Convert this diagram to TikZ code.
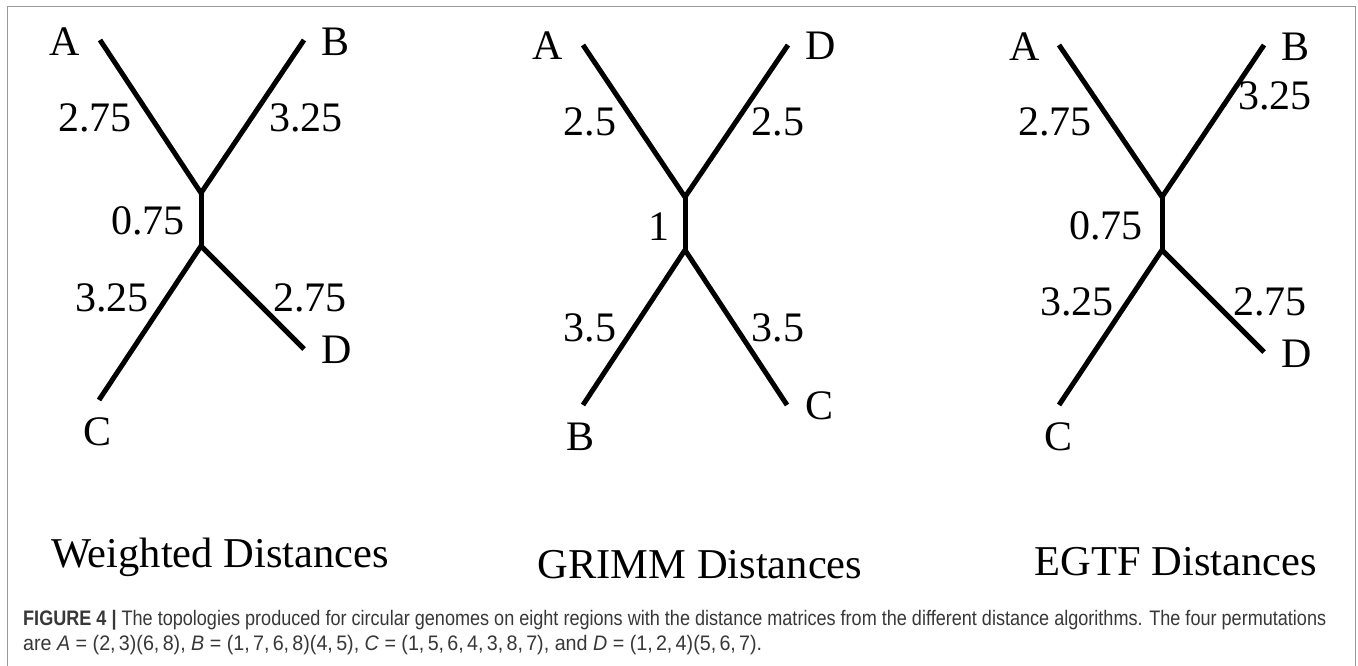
\documentclass[tikz,border=0pt]{standalone}
\usepackage{fontspec}
\setmainfont{Liberation Serif}
\newfontfamily\capfont{Liberation Sans}
\usepackage{graphicx}
\begin{document}
\begin{tikzpicture}[x=1pt,y=-1pt,
  branch/.style={line width=5pt, line join=miter},
  lbl/.style={font=\fontsize{42}{48}\selectfont, inner sep=0pt},
  ttl/.style={font=\fontsize{42.5}{50}\selectfont, inner sep=0pt, anchor=base},
  capline/.style={anchor=base west, inner sep=0pt, text=black!78,
                  font=\capfont\fontsize{21}{25}\selectfont},
  frame/.style={draw=black!40, line width=1.5pt}]
\useasboundingbox (0,0) rectangle (1358,666);
\fill[white] (0,0) rectangle (1358,666);
% frame
\coordinate (f1) at (7.5,666);
\coordinate (f2) at (7.5,6.5);
\coordinate (f3) at (1355.5,6.5);
\coordinate (f4) at (1355.5,666);
\draw[frame] (f1) -- (f2) -- (f3) -- (f4);

% ---------- Tree 1: Weighted ----------
\coordinate (a1) at (100,40);
\coordinate (b1) at (304,40);
\coordinate (u1) at (201,193);
\coordinate (v1) at (201,246);
\coordinate (c1) at (99,400);
\coordinate (d1) at (304,349);
\draw[branch] (a1) -- (u1) -- (b1);
\draw[branch] (u1) -- (v1);
\draw[branch] (c1) -- (v1) -- (d1);
\node[lbl] (la1) at (65,42) {A};
\node[lbl] (lb1) at (336,42) {B};
\node[lbl] (lc1) at (98,432) {C};
\node[lbl] (ld1) at (337,350) {D};
\node[lbl] (wa1) at (95,118) {2.75};
\node[lbl] (wb1) at (306,118) {3.25};
\node[lbl] (wm1) at (148,221) {0.75};
\node[lbl] (wc1) at (112,298) {3.25};
\node[lbl] (wd1) at (310,298) {2.75};

% ---------- Tree 2: GRIMM ----------
\coordinate (a2) at (583,45);
\coordinate (d2) at (788,45);
\coordinate (u2) at (685,197);
\coordinate (v2) at (685,250);
\coordinate (b2) at (583,405);
\coordinate (c2) at (787,405);
\draw[branch] (a2) -- (u2) -- (d2);
\draw[branch] (u2) -- (v2);
\draw[branch] (b2) -- (v2) -- (c2);
\node[lbl] (la2) at (548,46) {A};
\node[lbl] (ld2) at (821,46) {D};
\node[lbl] (lb2) at (581,437) {B};
\node[lbl] (lc2) at (819,406) {C};
\node[lbl] (wa2) at (590,122) {2.5};
\node[lbl] (wd2) at (778,122) {2.5};
\node[lbl] (wm2) at (659,227) {1};
\node[lbl] (wb2) at (590,328) {3.5};
\node[lbl] (wc2) at (778,328) {3.5};

% ---------- Tree 3: EGTF ----------
\coordinate (a3) at (1059,45);
\coordinate (b3) at (1264,45);
\coordinate (u3) at (1162,197);
\coordinate (v3) at (1162,250);
\coordinate (c3) at (1059,405);
\coordinate (d3) at (1264,352);
\draw[branch] (a3) -- (u3) -- (b3);
\draw[branch] (u3) -- (v3);
\draw[branch] (c3) -- (v3) -- (d3);
\node[lbl] (la3) at (1025,47) {A};
\node[lbl] (lb3) at (1295,47) {B};
\node[lbl] (lc3) at (1058,437) {C};
\node[lbl] (ld3) at (1297,354) {D};
\node[lbl] (wa3) at (1055,122) {2.75};
\node[lbl] (wb3) at (1275,96) {3.25};
\node[lbl] (wm3) at (1106,226) {0.75};
\node[lbl] (wc3) at (1077,302) {3.25};
\node[lbl] (wd3) at (1270,302) {2.75};

% ---------- titles ----------
\node[ttl] (t1) at (220,567) {Weighted Distances};
\node[ttl] (t2) at (700,578) {GRIMM Distances};
\node[ttl] (t3) at (1176,575) {EGTF Distances};

% ---------- caption ----------
\node[capline] (cap1) at (23,625)
  {\resizebox{1303pt}{\height}{\textbf{FIGURE 4 |} The topologies produced for circular genomes on eight regions with the distance matrices from the different distance algorithms. The four permutations}};
\node[capline] (cap2) at (23,650)
  {\resizebox{739pt}{\height}{are \textit{A} = (2,\,3)(6,\,8), \textit{B} = (1,\,7,\,6,\,8)(4,\,5), \textit{C} = (1,\,5,\,6,\,4,\,3,\,8,\,7), and \textit{D} = (1,\,2,\,4)(5,\,6,\,7).}};
\end{tikzpicture}
\end{document}
